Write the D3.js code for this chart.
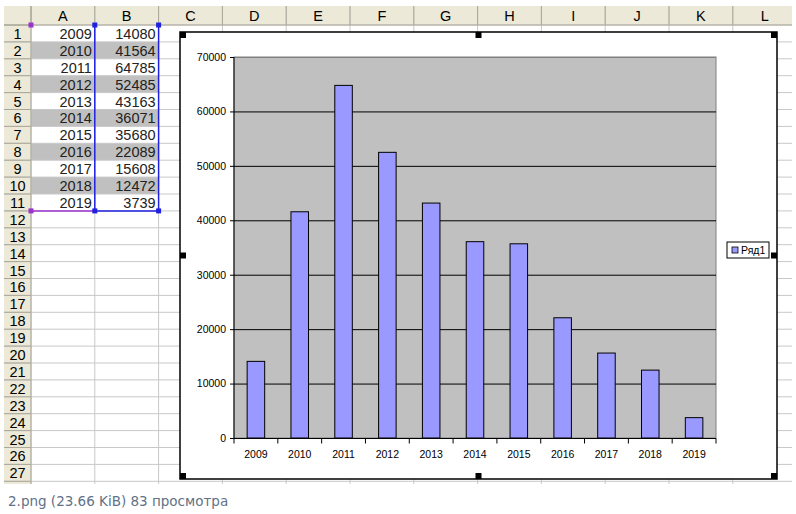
<!DOCTYPE html>
<html>
<head>
<meta charset="utf-8">
<script src="https://d3js.org/d3.v7.min.js"></script>
<style>
  body { margin: 0; background: #fff; }
  svg text { font-family: "Liberation Sans", Arial, sans-serif; }
</style>
</head>
<body>
<script>
var years = ["2009","2010","2011","2012","2013","2014","2015","2016","2017","2018","2019"];
var values = [14080, 41564, 64785, 52485, 43163, 36071, 35680, 22089, 15608, 12472, 3739];
var colLetters = ["A","B","C","D","E","F","G","H","I","J","K","L"];
var yTicks = [0, 10000, 20000, 30000, 40000, 50000, 60000, 70000];
var seriesName = "Ряд1";

var W = 796, H = 514;
var svg = d3.select("body").append("svg").attr("width", W).attr("height", H);

// ---- spreadsheet grid ----
var gridL = 4, hdrR = 31, colW = 63.8, hdrT = 6, hdrB = 25, rowH = 16.9;
var gridB = 484, gridR = 792;
var nRows = 27;

var gx = d3.scaleLinear().domain([0, 1]).range([hdrR, hdrR + colW]);
var gy = d3.scaleLinear().domain([0, 1]).range([hdrB, hdrB + rowH]);

svg.append("clipPath").attr("id", "gclip")
  .append("rect").attr("x", 0).attr("y", 0).attr("width", gridR).attr("height", gridB);

var sheet = svg.append("g").attr("clip-path", "url(#gclip)");

// alternating gray cells in A:B
sheet.selectAll("rect.shade")
  .data(years.filter(function(d, i) { return i % 2 == 1; }))
  .enter().append("rect")
  .attr("x", gx(0)).attr("width", colW * 2)
  .attr("y", function(d) { return gy(years.indexOf(d)); })
  .attr("height", rowH)
  .attr("fill", "#c0c0c0");

// header backgrounds
sheet.append("rect").attr("x", gridL).attr("y", hdrT).attr("width", gridR - gridL).attr("height", hdrB - hdrT).attr("fill", "#ece9d8");
sheet.append("rect").attr("x", gridL).attr("y", hdrT).attr("width", hdrR - gridL).attr("height", gridB - hdrT).attr("fill", "#ece9d8");

// grid lines
sheet.selectAll("line.vg").data(d3.range(0, 13)).enter().append("line")
  .attr("x1", function(d) { return gx(d); }).attr("x2", function(d) { return gx(d); })
  .attr("y1", hdrT).attr("y2", gridB)
  .attr("stroke", "#c8c8c8").attr("stroke-width", 1);
sheet.selectAll("line.hg").data(d3.range(0, nRows + 1)).enter().append("line")
  .attr("x1", gridL).attr("x2", gridR)
  .attr("y1", function(d) { return gy(d); }).attr("y2", function(d) { return gy(d); })
  .attr("stroke", "#c8c8c8");
// header separators
sheet.selectAll("line.hs").data(d3.range(0, 13)).enter().append("line")
  .attr("x1", function(d) { return gx(d); }).attr("x2", function(d) { return gx(d); })
  .attr("y1", hdrT).attr("y2", hdrB).attr("stroke", "#aca899");
sheet.selectAll("line.rs").data(d3.range(0, nRows + 1)).enter().append("line")
  .attr("x1", gridL).attr("x2", hdrR)
  .attr("y1", function(d) { return gy(d); }).attr("y2", function(d) { return gy(d); })
  .attr("stroke", "#aca899");
sheet.append("line").attr("x1", gridL).attr("x2", gridR).attr("y1", hdrB).attr("y2", hdrB).attr("stroke", "#aca899");
sheet.append("line").attr("x1", hdrR).attr("x2", hdrR).attr("y1", hdrT).attr("y2", gridB).attr("stroke", "#aca899");

// header text
sheet.selectAll("text.col").data(colLetters).enter().append("text")
  .attr("x", function(d, i) { return gx(i + 0.5); }).attr("y", hdrB - 4.5)
  .attr("text-anchor", "middle").attr("font-size", 14.5).attr("fill", "#000")
  .text(function(d) { return d; });
sheet.selectAll("text.row").data(d3.range(1, nRows + 1)).enter().append("text")
  .attr("x", (gridL + hdrR) / 2).attr("y", function(d) { return gy(d) - 3; })
  .attr("text-anchor", "middle").attr("font-size", 14.5).attr("fill", "#000")
  .text(function(d) { return d; });

// cell values
sheet.selectAll("text.ya").data(years).enter().append("text")
  .attr("x", gx(1) - 3).attr("y", function(d, i) { return gy(i + 1) - 3; })
  .attr("text-anchor", "end").attr("font-size", 14.5).attr("fill", "#222")
  .text(function(d) { return d; });
sheet.selectAll("text.vb").data(values).enter().append("text")
  .attr("x", gx(2) - 3).attr("y", function(d, i) { return gy(i + 1) - 3; })
  .attr("text-anchor", "end").attr("font-size", 14.5).attr("fill", "#222")
  .text(function(d) { return d; });

// source range highlight
var nData = years.length;
sheet.append("line").attr("x1", gx(0)).attr("x2", gx(1)).attr("y1", gy(nData)).attr("y2", gy(nData)).attr("stroke", "#9933cc").attr("stroke-width", 1.5);
sheet.append("path").attr("fill", "none").attr("stroke", "#2020e0").attr("stroke-width", 1.5)
  .attr("d", "M" + gx(1) + "," + gy(0) + "V" + gy(nData) + "H" + gx(2) + "V" + gy(0));
[[0, 0, "#9933cc"], [0, nData, "#9933cc"], [1, 0, "#2020e0"], [2, 0, "#2020e0"], [1, nData, "#2020e0"], [2, nData, "#2020e0"]].forEach(function(h) {
  sheet.append("rect").attr("x", gx(h[0]) - 2.5).attr("y", gy(h[1]) - 2.5).attr("width", 5).attr("height", 5).attr("fill", h[2]);
});

// ---- chart object ----
var cL = 180, cT = 32, cR = 777, cB = 479;
svg.append("rect").attr("x", cL).attr("y", cT).attr("width", cR - cL).attr("height", cB - cT)
  .attr("fill", "#fff").attr("stroke", "#000").attr("stroke-width", 1.5);

var pL = 234, pR = 716, pT = 57, pB = 438;
var x = d3.scaleBand().domain(years).range([pL, pR]).paddingInner(0.6).paddingOuter(0.3);
var y = d3.scaleLinear().domain([0, 70000]).range([pB, pT]);

svg.append("rect").attr("x", pL).attr("y", pT).attr("width", pR - pL).attr("height", pB - pT)
  .attr("fill", "#c0c0c0").attr("stroke", "#808080");

svg.selectAll("line.grid").data(yTicks.slice(1)).enter().append("line")
  .attr("x1", pL).attr("x2", pR)
  .attr("y1", function(d) { return y(d) + 0.5; }).attr("y2", function(d) { return y(d) + 0.5; })
  .attr("stroke", function(d) { return d == 70000 ? "#808080" : "#000"; });

svg.selectAll("rect.bar").data(values).enter().append("rect")
  .attr("x", function(d, i) { return x(years[i]); })
  .attr("width", x.bandwidth())
  .attr("y", function(d) { return y(d); })
  .attr("height", function(d) { return pB - y(d); })
  .attr("fill", "#9999ff").attr("stroke", "#000").attr("stroke-width", 1);

// y axis
var yAxis = svg.append("g").attr("transform", "translate(" + pL + ",0)")
  .call(d3.axisLeft(y).tickValues(yTicks).tickSize(4).tickPadding(4).tickFormat(d3.format("d")));
yAxis.selectAll("text").attr("font-size", 10.5).attr("fill", "#000").style("font-family", "Liberation Sans, Arial");
yAxis.select(".domain").remove();
yAxis.append("line").attr("x1", 0).attr("x2", 0).attr("y1", pT).attr("y2", pB).attr("stroke", "#000");

// x axis: ticks at category boundaries
var xAxis = svg.append("g").attr("transform", "translate(0," + (pB + 0.5) + ")");
xAxis.append("line").attr("x1", pL).attr("x2", pR).attr("stroke", "#000");
xAxis.selectAll("line.tk").data(d3.range(0, years.length + 1)).enter().append("line")
  .attr("x1", function(d) { return pL + d * (pR - pL) / years.length; })
  .attr("x2", function(d) { return pL + d * (pR - pL) / years.length; })
  .attr("y1", 0).attr("y2", 5).attr("stroke", "#000");
xAxis.selectAll("text").data(years).enter().append("text")
  .attr("x", function(d) { return x(d) + x.bandwidth() / 2; })
  .attr("y", 19).attr("text-anchor", "middle").attr("font-size", 10.5).attr("fill", "#000")
  .text(function(d) { return d; });

// legend
var lg = svg.append("g").attr("transform", "translate(727,242)");
lg.append("rect").attr("width", 42).attr("height", 16).attr("fill", "#fff").attr("stroke", "#000");
lg.append("rect").attr("x", 5).attr("y", 5).attr("width", 6).attr("height", 6).attr("fill", "#9999ff").attr("stroke", "#000").attr("stroke-width", 0.8);
lg.append("text").attr("x", 14).attr("y", 12).attr("font-size", 10.5).attr("fill", "#000").text(seriesName);

// selection handles
var hs = 6;
[[cL, cT], [(cL + cR) / 2 - hs / 2, cT], [cR - hs, cT],
 [cL, (cT + cB) / 2 - hs / 2], [cR - hs, (cT + cB) / 2 - hs / 2],
 [cL, cB - hs], [(cL + cR) / 2 - hs / 2, cB - hs], [cR - hs, cB - hs]].forEach(function(p) {
  svg.append("rect").attr("x", p[0]).attr("y", p[1]).attr("width", hs).attr("height", hs).attr("fill", "#000");
});

// caption under the image
svg.append("text").attr("x", 8).attr("y", 506)
  .style("font-family", "DejaVu Sans, Verdana, sans-serif").attr("font-size", 13.5).attr("fill", "#5f7286")
  .text("2.png (23.66 KiB) 83 просмотра");
</script>
</body>
</html>
